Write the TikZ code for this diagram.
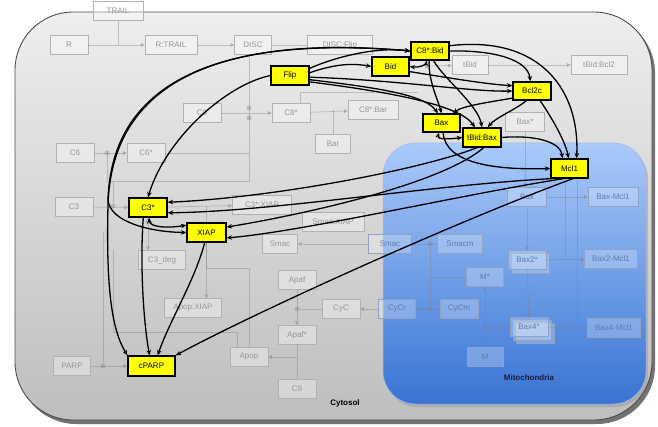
\documentclass[tikz,border=0pt]{standalone}
\usepackage{fontspec}
\setmainfont{Liberation Sans}
\usepackage{tikz}
\usetikzlibrary{positioning,arrows.meta}

\definecolor{cytotop}{RGB}{238,238,238}
\definecolor{cytobot}{RGB}{190,190,190}
\definecolor{mitotop}{RGB}{170,202,250}
\definecolor{mitobot}{RGB}{56,116,212}
\definecolor{spec}{RGB}{150,150,150}
\definecolor{specm}{RGB}{96,124,172}
\definecolor{hityellow}{RGB}{255,255,0}
\definecolor{mitolab}{RGB}{25,30,60}

\begin{document}
\begin{tikzpicture}[x=1pt, y=-1pt, font=\fontsize{8}{9}\selectfont,
  sp/.style={draw=black!30, fill=white, fill opacity=0.35, text opacity=1, text=spec,
    minimum width=38pt, minimum height=19pt, inner sep=1pt},
  mp/.style={draw=specm!70, fill=white, fill opacity=0.25, text opacity=1, text=specm,
    minimum width=38pt, minimum height=19pt, inner sep=1pt},
  hot/.style={draw=black, line width=1.2pt, fill=hityellow, minimum width=38pt,
    minimum height=19pt, inner sep=1pt},
  rx/.style={draw=black!50, opacity=0.4, line width=0.7pt},
  rxa/.style={rx, -{Triangle[length=4pt,width=4pt]}},
  dot/.style={circle, fill=black!50, opacity=0.4, inner sep=0pt, minimum size=5pt},
  inf/.style={line width=1.3pt, -{Stealth[length=5.5pt,width=4.5pt]}},
  binf/.style={line width=1.3pt, {Stealth[length=5.5pt,width=4.5pt]}-{Stealth[length=5.5pt,width=4.5pt]}}]
  \useasboundingbox (0,0) rectangle (658,427);

  % compartments
  \fill[black!55, rounded corners=58pt] (18,15) rectangle (655,424);
  \shade[top color=cytotop, bottom color=cytobot, rounded corners=58pt] (15,12) rectangle (652,420);
  \draw[black!70, line width=0.9pt, rounded corners=58pt] (15,12) rectangle (652,420);
  \fill[black!40, opacity=0.5, rounded corners=33pt] (385,146) rectangle (648,407);
  \shade[top color=mitotop, bottom color=mitobot, rounded corners=33pt] (383,143) rectangle (646,404);
  \draw[mitobot!50!white, line width=0.5pt, rounded corners=33pt] (383,143) rectangle (646,404);
  \node[font=\fontsize{8}{9}\selectfont\bfseries] (cyto) at (345,403) {Cytosol};
  \node[font=\fontsize{8}{9}\selectfont\bfseries, text=mitolab] (mito) at (529,378) {Mitochondria};

  % cytosolic species
  \node[sp, minimum width=50pt] (trail) at (118,11) {TRAIL};
  \node[sp] (r) at (69,45) {R};
  \node[sp, minimum width=52pt] (rtrail) at (171,45) {R:TRAIL};
  \node[sp, minimum width=37pt] (disc) at (253,45) {DISC};
  \node[sp, minimum width=65pt] (discflip) at (340,45) {DISC:Flip};
  \node[sp, minimum width=36pt] (tbid) at (470,65) {tBid};
  \node[sp, minimum width=56pt] (tbidbcl2) at (599,65) {tBid:Bcl2};
  \node[sp] (c8) at (202,113) {C8};
  \node[sp] (c8s) at (291,113) {C8*};
  \node[sp, minimum width=50pt] (c8bar) at (373,110) {C8*:Bar};
  \node[sp, minimum width=35pt] (bar) at (333,144) {Bar};
  \node[sp, minimum width=39pt] (baxs) at (525,122) {Bax*};
  \node[sp] (c6) at (75,153) {C6};
  \node[sp] (c6s) at (146,153) {C6*};
  \node[sp] (c3) at (74,207) {C3};
  \node[sp, minimum width=59pt] (c3xiap) at (262,205) {C3*:XIAP};
  \node[sp, minimum width=62pt] (smacxiap) at (333,222) {Smac:XIAP};
  \node[sp, minimum width=35pt] (smac) at (280,244) {Smac};
  \node[sp, minimum width=47pt] (c3deg) at (162,260) {C3\_deg};
  \node[sp] (apaf) at (297,280) {Apaf};
  \node[sp, minimum width=57pt] (apopxiap) at (193,308) {Apop:XIAP};
  \node[sp] (cyc) at (341,309) {CyC};
  \node[sp] (apafs) at (297,335) {Apaf*};
  \node[sp] (apop) at (249,357) {Apop};
  \node[sp, minimum width=37pt] (parp) at (72,366) {PARP};
  \node[sp] (c9) at (297,389) {C9};

  % mitochondrial species
  \draw[specm!70, fill=white, fill opacity=0.25] (511,253) rectangle (549,273);
  \draw[specm!70, fill=white, fill opacity=0.25] (516,323) rectangle (554,343);
  \draw[specm!70, fill=white, fill opacity=0.25] (513,320) rectangle (551,340);
  \node[mp, minimum width=43pt] (smacr) at (390,244) {Smac};
  \node[mp, minimum width=45pt] (smacm) at (460,244) {Smacm};
  \node[mp, minimum width=37pt] (cycr) at (397,309) {CyCr};
  \node[mp] (cycm) at (459,309) {CyCm};
  \node[mp, minimum width=37pt] (ms) at (485,277) {M*};
  \node[mp, minimum width=36pt] (m) at (485,357) {M};
  \node[mp, minimum width=39pt] (baxm) at (527,197) {Bax};
  \node[mp, minimum width=50pt] (baxmcl1) at (613,197) {Bax-Mcl1};
  \node[mp] (bax2) at (527,260) {Bax2*};
  \node[mp, minimum width=53pt] (bax2mcl1) at (611,259) {Bax2-Mcl1};
  \node[mp] (bax4) at (529,327) {Bax4*};
  \node[mp, minimum width=53pt] (bax4mcl1) at (614,328) {Bax4-Mcl1};

  % key species
  \node[hot] (flip) at (290,75.5) {Flip};
  \node[hot, minimum height=18pt] (c8bid) at (430,51) {C8*:Bid};
  \node[hot, minimum width=37pt] (bid) at (390.5,66.5) {Bid};
  \node[hot, minimum height=18pt] (bcl2c) at (532,91) {Bcl2c};
  \node[hot, minimum width=37pt, minimum height=18pt] (bax) at (441.5,123) {Bax};
  \node[hot] (tbidbax) at (482,137.5) {tBid:Bax};
  \node[hot, minimum width=37pt] (mcl1) at (569.5,168.5) {Mcl1};
  \node[hot] (c3s) at (148,207.5) {C3*};
  \node[hot, minimum width=39pt] (xiap) at (206.5,232.5) {XIAP};
  \node[hot, minimum width=47pt, minimum height=20pt] (cparp) at (151.5,366) {cPARP};

  % reaction network
  \draw[rx] (trail.south) -- (118,45);
  \draw[rxa] (r) -- (rtrail);
  \draw[rxa] (rtrail) -- (disc);
  \draw[rx] (disc) -- (discflip);
  \draw[rx] ([xshift=-4pt]disc.south) -- (249,181) -- (107,181) -- (107,153);
  \node[dot] (d1) at (249,108) {};
  \node[dot] (d2) at (249,118) {};
  \draw[rxa] (c8) -- (c8s);
  \draw[rx] (c6s) -- (249,153);
  \draw[rxa] (c6) -- (c6s);
  \node[dot] (d3) at (107,153) {};
  \draw[rxa] (c3) -- (c3s);
  \node[dot] (d4) at (113,206) {};
  \draw[rx] (d4) -- (113,181);
  \draw[rxa] (c3s) -- (c3xiap);
  \draw[rx] (xiap.north) -- (206.5,206);
  \draw[rxa] (c3s.south) -- (c3deg.north -| c3s.south);
  \node[dot] (d5) at (148,222) {};
  \draw[rxa] (c8s) -- (c8bar);
  \draw[rx] (bar.north) -- (333,110);
  \draw[rx] ([xshift=9pt]c8s.north) |- (418,92);
  \draw[rxa] (tbid) -- (tbidbcl2);
  \node[dot] (d6) at (427,66) {};
  \draw[rxa] (d6) -- (tbid);
  \draw[rxa] (baxs.south) -- (baxs.south |- baxm.north);
  \draw[rxa] (baxm) -- (baxmcl1);
  \draw[rxa] (baxm) -- (bax2);
  \draw[rxa] (bax2) -- (bax4);
  \draw[rxa] (bax2) -- (bax2mcl1);
  \draw[rxa] (bax4) -- (bax4mcl1);
  \draw[rx] ([xshift=-4.5pt]mcl1.south) -- (565,259);
  \draw[rx] ([xshift=7.5pt]mcl1.south) -- (577,327);
  \draw[rxa] (smacm) -- (smacr);
  \draw[rxa] (smacr) -- (smac);
  \draw[rxa] (cycm) -- (cycr);
  \draw[rxa] (cycr) -- (cyc);
  \node[dot] (d7) at (430,244) {};
  \node[dot] (d8) at (430,309) {};
  \draw[rx] (d7) -- (d8);
  \draw[rx] (d7 |- ms) -- (ms);
  \draw[rxa] (m) -- (ms);
  \node[dot] (d9) at (485,327) {};
  \draw[rx] (d9) -- (bax4);
  \draw[rxa] (apaf) -- (apafs);
  \node[dot] (d10) at (297,309) {};
  \draw[rx] (d10) -- (cyc);
  \draw[rx] (apafs) -- (c9);
  \draw[rxa] (c9 |- apop) -- (apop);
  \draw[rx] (xiap.south) -- (206.5,268) -| (apop.north);
  \draw[rxa] (xiap.south) -- (xiap.south |- apopxiap.north);
  \draw[rxa] (parp) -- (cparp);
  \node[dot] (d11) at (103,366) {};
  \draw[rx] (d11) -- (103,232);
  \draw[rx] (113,250) -- (113,332) -| ([xshift=-12pt]apop.north);

  % influences
  \draw[inf] (flip.20) .. controls (340,55) and (380,47) .. (c8bid.west);
  \draw[inf] (flip.8) .. controls (335,64) and (352,63) .. (bid.west);
  \draw[inf] (flip.-5) .. controls (400,80) and (470,92) .. (bcl2c.west);
  \draw[inf] (flip.-12) .. controls (380,88) and (425,95) .. (bax.110);
  \draw[inf] (flip.-18) .. controls (390,92) and (460,105) .. (tbidbax.125);
  \draw[inf] (flip.west) .. controls (225,85) and (165,140) .. (c3s.north);
  \draw[binf] (bid.east) .. controls (420,68) and (426,64) .. (c8bid.250);
  \draw[inf] (bid.-15) .. controls (450,78) and (485,84) .. (bcl2c.165);
  \draw[inf] (c8bid.east) .. controls (495,50) and (528,60) .. (bcl2c.100);
  \draw[inf] (c8bid.15) .. controls (540,35) and (580,90) .. (mcl1.55);
  \draw[inf] (c8bid.-95) .. controls (428,80) and (438,100) .. (bax.north);
  \draw[inf] (c8bid.-70) .. controls (445,80) and (478,105) .. (tbidbax.north);
  \draw[inf] (bcl2c.200) .. controls (490,102) and (462,106) .. (bax.40);
  \draw[inf] (bcl2c.-120) .. controls (515,110) and (495,118) .. (tbidbax.60);
  \draw[inf] (bcl2c.-50) .. controls (550,115) and (565,140) .. (mcl1.95);
  \draw[binf] (bax.-105) .. controls (437,140) and (450,139) .. (tbidbax.west);
  \draw[inf] (bax.-80) .. controls (445,165) and (500,170) .. (mcl1.west);
  \draw[inf] (tbidbax.east) .. controls (530,135) and (560,140) .. (mcl1.125);
  \draw[inf] (tbidbax.-115) .. controls (420,170) and (270,198) .. (c3s.15);
  \draw[inf] (mcl1.-150) .. controls (430,185) and (270,212) .. (c3s.-15);
  \draw[inf] (tbidbax.-80) .. controls (440,185) and (300,215) .. (xiap.15);
  \draw[inf] (mcl1.-120) .. controls (460,195) and (300,232) .. (xiap.-15);
  \draw[inf] (mcl1.-70) .. controls (460,220) and (260,310) .. (cparp.north east);
  \draw[binf] (c3s.-85) .. controls (150,228) and (170,228) .. (xiap.160);
  \draw[binf] (c8bid.west) .. controls (240,36) and (112,70) .. (108,205)
    .. controls (106,290) and (112,330) .. (cparp.north west);
  \draw[inf] (c8bid.west) .. controls (240,36) and (112,70) .. (108,200)
    .. controls (110,222) and (150,232) .. (xiap.west);
  \draw[inf] (xiap.-100) .. controls (195,280) and (170,320) .. (cparp.60);
  \draw[inf] (c3s.-115) .. controls (140,260) and (143,320) .. (cparp.100);
\end{tikzpicture}
\end{document}
